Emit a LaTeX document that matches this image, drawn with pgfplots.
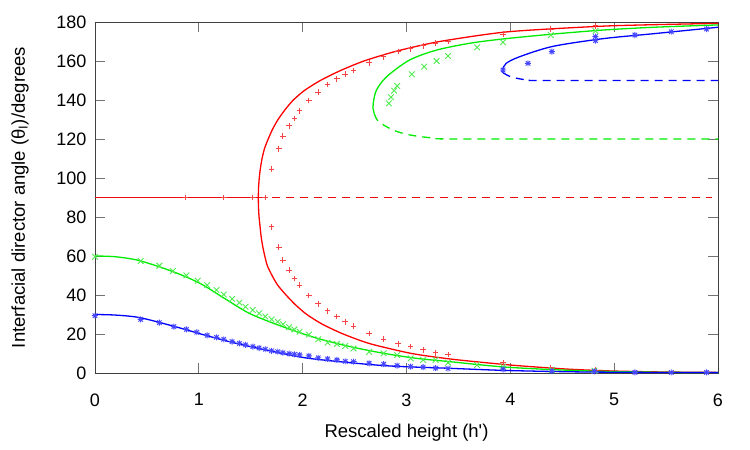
\documentclass[border=0pt]{standalone}
\usepackage{fontspec}
\setmainfont{Liberation Sans}
\usepackage{pgfplots}
\pgfplotsset{compat=1.18}
\definecolor{gpred}{RGB}{240,10,10}
\definecolor{gpgreen}{RGB}{0,235,0}
\definecolor{mkred}{RGB}{245,70,70}
\definecolor{mkgreen}{RGB}{80,235,80}
\definecolor{mkblue}{RGB}{70,70,255}
\pgfdeclareplotmark{gpstar}{%
 \pgfpathmoveto{\pgfqpoint{-\pgfplotmarksize}{0pt}}\pgfpathlineto{\pgfqpoint{\pgfplotmarksize}{0pt}}%
 \pgfpathmoveto{\pgfqpoint{0pt}{-\pgfplotmarksize}}\pgfpathlineto{\pgfqpoint{0pt}{\pgfplotmarksize}}%
 \pgfpathmoveto{\pgfqpoint{-.75\pgfplotmarksize}{-.75\pgfplotmarksize}}\pgfpathlineto{\pgfqpoint{.75\pgfplotmarksize}{.75\pgfplotmarksize}}%
 \pgfpathmoveto{\pgfqpoint{-.75\pgfplotmarksize}{.75\pgfplotmarksize}}\pgfpathlineto{\pgfqpoint{.75\pgfplotmarksize}{-.75\pgfplotmarksize}}%
 \pgfusepathqstroke}
\begin{document}
\begin{tikzpicture}
\path[use as bounding box] (-95pt,-77pt) rectangle (655pt,373pt);
\begin{axis}[
 at={(0pt,0pt)}, anchor=south west,
 scale only axis, width=623pt, height=351pt,
 xmin=0, xmax=6, ymin=0, ymax=180,
 xtick={0,1,...,6}, ytick={0,20,...,180},
 tick align=inside, major tick length=10pt,
 tick style={black!55, line width=0.8pt},
 axis line style={black!75, line width=0.9pt},
 /pgf/number format/assume math mode=true,
 ticklabel style={font=\fontsize{18}{21}\selectfont},
 yticklabel style={xshift=-5pt},
 xticklabel style={yshift=-17pt},
 xlabel={Rescaled height (h\textquotesingle)},
 ylabel={Interfacial director angle (θ\textsubscript{I})/degrees},
 xlabel style={at={(axis description cs:0.5,-0.171)}, anchor=center},
 ylabel style={at={(axis description cs:-0.1204,0.5)}, anchor=center},
 label style={font=\fontsize{18.5}{22}\selectfont},
 clip=true,
]
% ---------- red ----------
\addplot[color=red, line width=1.3pt, smooth, tension=0.4] coordinates {
 (6.0,0.3) (5.5,0.5) (5.0,1.0) (4.55,2.0) (4.02,4.0) (3.45,7.0) (3.05,10.0) (2.65,15.0)
 (2.39,20.0) (2.19,25.0) (2.04,30.0) (1.93,35.0) (1.84,40.0) (1.76,45.0) (1.705,50.0)
 (1.66,55.0) (1.635,60.0) (1.615,65.0) (1.600,70.0) (1.590,75.0) (1.580,80.0) (1.5748,85.0)
 (1.573,90.0)
 (1.5753,95.0) (1.582,100.0) (1.593,105.0) (1.609,110.0) (1.632,115.0) (1.668,120.0)
 (1.71,125.0) (1.763,130.0) (1.83,135.0) (1.91,140.0) (2.02,145.0) (2.17,150.0)
 (2.36,155.0) (2.59,160.0) (2.90,165.0) (3.32,170.0) (3.98,175.0) (4.95,178.0) (6.0,179.3)};
\addplot[gpred, line width=1.4pt] coordinates {(0,90.1) (1.573,90.1)};
\addplot[gpred, line width=1.4pt, dash pattern=on 8pt off 6pt] coordinates {(1.573,90.1) (5.94,90.1)};
\addplot[mkred, only marks, mark=+, mark size=2.8pt, mark options={line width=1pt}] coordinates {
 (0.87,90) (1.24,90) (1.52,90) (1.64,90)
 (1.70,104.6) (1.77,115) (1.81,121.4) (1.87,126.7) (1.92,130.6) (1.97,134.4) (2.06,139.8)
 (2.15,144.1) (2.24,147.9) (2.33,150.8) (2.41,153.3) (2.49,155.2) (2.64,159.1) (2.78,162.1)
 (2.92,164.8) (3.04,166.2) (3.16,167.7) (3.28,169.1) (3.40,170.1) (3.93,173.8) (4.39,176.4) (4.82,178)
 (1.70,74.9) (1.77,64.5) (1.81,57.8) (1.87,52.8) (1.92,48.5) (1.97,45.1) (2.06,39.7)
 (2.15,35.4) (2.24,31.8) (2.33,28.9) (2.41,26.3) (2.49,24.1) (2.64,20.3) (2.78,17.4)
 (2.92,14.9) (3.04,13.5) (3.16,11.8) (3.28,10.4) (3.40,9.4) (3.93,5.3) (4.39,2.9) (4.82,1.5)};
% ---------- green ----------
\addplot[gpgreen, line width=1.3pt, smooth, tension=0.5] coordinates {
 (0,60) (0.2,59.6) (0.43,57.6) (0.75,52) (1.01,46) (1.24,38.5) (1.49,30.5) (1.81,23.7)
 (2.14,17.8) (2.46,13.5) (2.78,10.1) (3.10,7.5) (3.42,5.8) (3.96,3.0) (4.61,1.3) (5.25,0.5) (6.0,0.2)};
\addplot[gpgreen, line width=1.3pt, smooth, tension=0.5] coordinates {
 (6.0,178.5) (5.38,177.3) (4.90,175.9) (4.41,173.8) (3.93,171.3) (3.61,169.1) (3.29,165.6)
 (3.03,160.5) (2.81,152) (2.71,145) (2.68,138.5) (2.677,136) (2.69,133)};
\addplot[gpgreen, line width=1.3pt, smooth, tension=0.5, dash pattern=on 8pt off 6pt] coordinates {
 (2.69,133) (2.73,129) (2.87,124.6) (3.03,122.1) (3.26,120.5) (3.52,120) (6.0,120)};
\addplot[mkgreen, only marks, mark=x, mark size=4pt, mark options={line width=0.9pt}] coordinates {
 (0,59.6) (0.44,57.4) (0.62,55) (0.75,52.3) (0.88,50.1) (0.99,47.3) (1.08,45.1) (1.17,42.6)
 (1.24,40.3) (1.32,38) (1.39,36.1) (1.45,34) (1.52,32.3) (1.58,30.6) (1.64,29) (1.70,27.5)
 (1.76,26.3) (1.81,25) (1.87,23.5) (1.92,22.3) (1.97,21.2) (2.06,19.7) (2.15,17.3) (2.24,15.6)
 (2.33,14.9) (2.41,13.8) (2.49,12.6) (2.64,10.8) (2.78,10.1) (2.91,9.2) (3.04,7.5) (3.16,6.7)
 (3.28,6.7) (3.40,5.3) (3.68,4.1) (3.93,3.2) (4.40,1.5) (4.81,1.2)
 (2.83,138.3) (2.85,141.4) (2.88,144.8) (2.91,147.2) (3.05,153.2) (3.17,157.1) (3.29,160)
 (3.40,162.6) (3.68,167) (3.93,169.6) (4.39,173.3) (4.82,175.4)};
% ---------- blue ----------
\addplot[blue, line width=1.3pt, smooth, tension=0.5] coordinates {
 (0,30) (0.2,29.7) (0.43,28.4) (0.75,24.1) (1.08,19.1) (1.40,14.7) (1.88,9.2) (2.14,7.0)
 (2.78,3.8) (3.42,2.4) (3.96,1.3) (4.61,0.6) (5.3,0.3) (6.0,0.2)};
\addplot[blue, line width=1.3pt, smooth, tension=0.5] coordinates {
 (6.0,177.3) (5.38,174) (4.90,171.5) (4.41,167.5) (4.09,162.2) (3.96,158.8) (3.925,155.5) (3.93,154)};
\addplot[blue, line width=1.3pt, smooth, tension=0.5, dash pattern=on 8pt off 6pt] coordinates {
 (3.93,154) (4.0,152) (4.13,150.5) (4.3,150) (6.0,150)};
\addplot[mkblue, only marks, mark=gpstar, mark size=3pt, mark options={line width=0.9pt}] coordinates {
 (0,29.4) (0.44,27.5) (0.62,25.8) (0.76,23.8) (0.88,22.4) (0.98,20.9) (1.08,19.3) (1.17,18.3)
 (1.24,17.3) (1.32,16.1) (1.39,15.2) (1.45,14.4) (1.52,13.5) (1.58,12.8) (1.64,12.2) (1.70,11.4)
 (1.76,10.9) (1.81,10.4) (1.87,9.9) (1.92,9.6) (1.97,9.3) (2.06,8.8) (2.15,7.8) (2.24,7.2)
 (2.33,6.7) (2.41,6.0) (2.49,5.8) (2.64,5.0) (2.78,4.5) (2.91,3.8) (3.04,3.3) (3.16,3.0)
 (3.28,2.5) (3.40,2.3) (3.93,1.9) (4.40,1.0) (4.81,0.8) (5.20,0.3) (5.55,0.3) (5.89,0.3)
 (3.93,155.4) (4.17,158.8) (4.40,164.8) (4.82,170.4) (4.82,172.5) (5.20,173.3) (5.55,175) (5.89,176.4)};
\end{axis}
\end{tikzpicture}
\end{document}
